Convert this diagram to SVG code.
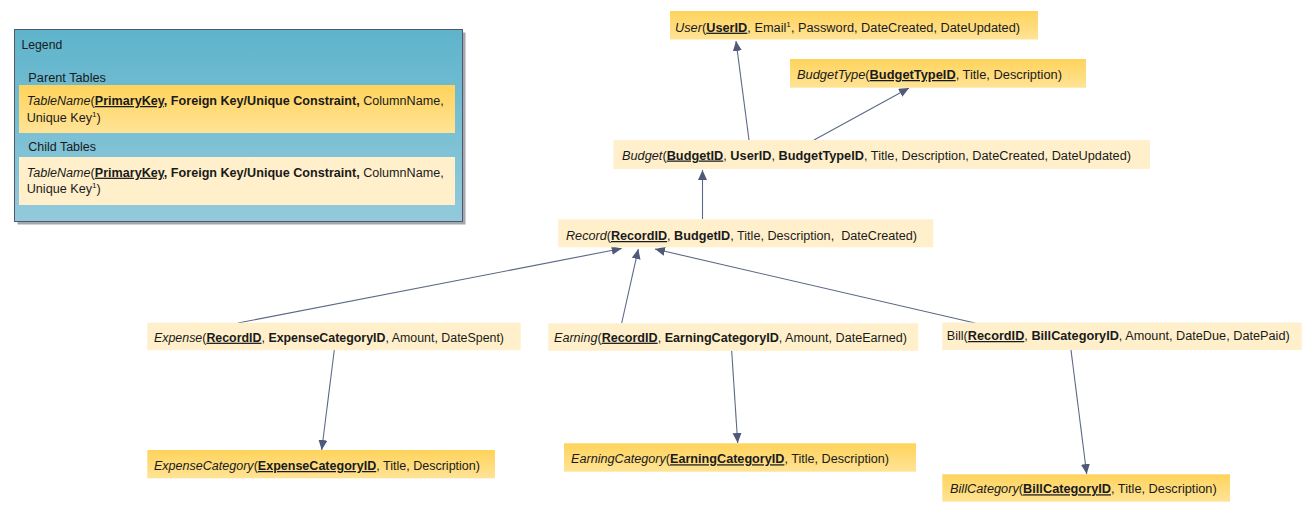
<svg xmlns="http://www.w3.org/2000/svg" width="1314" height="525" viewBox="0 0 1314 525">
<style>
text{font-family:"Liberation Sans",Arial,sans-serif;font-size:12.5px;fill:#1a1a1a}
.i{font-style:italic}
.b{font-weight:bold}
.pk{font-weight:bold;text-decoration:underline}
.sup{font-size:8px}
.parent{fill:url(#gParent)}
.child{fill:#FFF0CB}
.edge{stroke:#5C6885;stroke-width:1.1;fill:none;marker-end:url(#arrow)}
</style>
<defs>
<linearGradient id="gParent" x1="0" y1="0" x2="0" y2="1">
<stop offset="0" stop-color="#FFD35B"/>
<stop offset="1" stop-color="#FFE396"/>
</linearGradient>
<linearGradient id="gLegend" x1="0" y1="0" x2="0" y2="1">
<stop offset="0" stop-color="#5EB4CC"/>
<stop offset="1" stop-color="#93CADB"/>
</linearGradient>
<marker id="arrow" markerUnits="userSpaceOnUse" markerWidth="11" markerHeight="10" refX="10" refY="4.5" orient="auto">
<path d="M0,0 L10,4.5 L0,9 z" fill="#4E5A78"/>
</marker>
</defs>
<rect width="1314" height="525" fill="#ffffff"/>

<g id="legend">
<rect x="17.5" y="32.5" width="448" height="192" fill="#A3A7B0"/>
<rect x="14.5" y="29.5" width="448" height="192" fill="url(#gLegend)" stroke="#4F596B" stroke-width="1"/>
<text x="21.5" y="48.5" textLength="40.7" lengthAdjust="spacingAndGlyphs">Legend</text>
<text x="28.3" y="82.3" textLength="77.7" lengthAdjust="spacingAndGlyphs">Parent Tables</text>
<rect x="19" y="85" width="436" height="48" class="parent"/>
<text x="26.7" y="105" textLength="417" lengthAdjust="spacingAndGlyphs"><tspan class="i">TableName</tspan>(<tspan class="pk">PrimaryKey</tspan><tspan class="b">, Foreign Key/Unique Constraint,</tspan> ColumnName,</text>
<text x="26.7" y="121.7" textLength="74" lengthAdjust="spacingAndGlyphs">Unique Key<tspan class="sup" dy="-5">1</tspan><tspan dy="5">)</tspan></text>
<text x="28.3" y="150.7" textLength="67.7" lengthAdjust="spacingAndGlyphs">Child Tables</text>
<rect x="19" y="157" width="436" height="48" class="child"/>
<text x="26.7" y="176.7" textLength="417" lengthAdjust="spacingAndGlyphs"><tspan class="i">TableName</tspan>(<tspan class="pk">PrimaryKey</tspan><tspan class="b">, Foreign Key/Unique Constraint,</tspan> ColumnName,</text>
<text x="26.7" y="193.3" textLength="74" lengthAdjust="spacingAndGlyphs">Unique Key<tspan class="sup" dy="-5">1</tspan><tspan dy="5">)</tspan></text>
</g>

<g id="connectors">
<line id="e-budget-user" class="edge" x1="749" y1="140" x2="736" y2="41"/>
<line id="e-budget-budgettype" class="edge" x1="814" y1="140" x2="909" y2="88"/>
<line id="e-record-budget" class="edge" x1="702.5" y1="219" x2="702.5" y2="170"/>
<line id="e-expense-record" class="edge" x1="238" y1="323" x2="621.7" y2="248.5"/>
<line id="e-earning-record" class="edge" x1="621.7" y1="323" x2="638.3" y2="249"/>
<line id="e-bill-record" class="edge" x1="975" y1="323" x2="655" y2="249"/>
<line id="e-expense-expensecategory" class="edge" x1="334.3" y1="350" x2="321.7" y2="450"/>
<line id="e-earning-earningcategory" class="edge" x1="731.7" y1="351" x2="737.7" y2="443"/>
<line id="e-bill-billcategory" class="edge" x1="1071" y1="350" x2="1086.7" y2="474"/>
</g>

<g id="node-user">
<rect x="670" y="11" width="368" height="28.5" class="parent"/>
<text x="675" y="31.7" textLength="345" lengthAdjust="spacingAndGlyphs"><tspan class="i">User</tspan>(<tspan class="pk">UserID</tspan>, Email<tspan class="sup" dy="-5">1</tspan><tspan dy="5">, Password, DateCreated, DateUpdated)</tspan></text>
</g>

<g id="node-budgettype">
<rect x="790" y="59" width="296" height="28.7" class="parent"/>
<text x="797" y="79" textLength="265" lengthAdjust="spacingAndGlyphs"><tspan class="i">BudgetType</tspan>(<tspan class="pk">BudgetTypeID</tspan>, Title, Description)</text>
</g>

<g id="node-budget">
<rect x="613.5" y="140" width="536.5" height="29" class="child"/>
<text x="622" y="159.5" textLength="509" lengthAdjust="spacingAndGlyphs"><tspan class="i">Budget</tspan>(<tspan class="pk">BudgetID</tspan>, <tspan class="b">UserID</tspan>, <tspan class="b">BudgetTypeID</tspan>, Title, Description, DateCreated, DateUpdated)</text>
</g>

<g id="node-record">
<rect x="558.3" y="219.3" width="375" height="28" class="child"/>
<text x="566" y="240" textLength="351" lengthAdjust="spacingAndGlyphs"><tspan class="i">Record</tspan>(<tspan class="pk">RecordID</tspan>, <tspan class="b">BudgetID</tspan>, Title, Description,&#160; DateCreated)</text>
</g>

<g id="node-expense">
<rect x="147.3" y="322.7" width="373.4" height="27.5" class="child"/>
<text x="154" y="341.7" textLength="350" lengthAdjust="spacingAndGlyphs"><tspan class="i">Expense</tspan>(<tspan class="pk">RecordID</tspan>, <tspan class="b">ExpenseCategoryID</tspan>, Amount, DateSpent)</text>
</g>

<g id="node-earning">
<rect x="548.3" y="323.3" width="370" height="27.5" class="child"/>
<text x="554" y="341.7" textLength="353" lengthAdjust="spacingAndGlyphs"><tspan class="i">Earning</tspan>(<tspan class="pk">RecordID</tspan>, <tspan class="b">EarningCategoryID</tspan>, Amount, DateEarned)</text>
</g>

<g id="node-bill">
<rect x="942.3" y="322.5" width="359.4" height="27.5" class="child"/>
<text x="946.7" y="340" textLength="343" lengthAdjust="spacingAndGlyphs">Bill(<tspan class="pk">RecordID</tspan>, <tspan class="b">BillCategoryID</tspan>, Amount, DateDue, DatePaid)</text>
</g>

<g id="node-expensecategory">
<rect x="147.3" y="450" width="347.7" height="28.3" class="parent"/>
<text x="154" y="470" textLength="326" lengthAdjust="spacingAndGlyphs"><tspan class="i">ExpenseCategory</tspan>(<tspan class="pk">ExpenseCategoryID</tspan>, Title, Description)</text>
</g>

<g id="node-earningcategory">
<rect x="564" y="443.3" width="352" height="28.4" class="parent"/>
<text x="571" y="463.3" textLength="318" lengthAdjust="spacingAndGlyphs"><tspan class="i">EarningCategory</tspan>(<tspan class="pk">EarningCategoryID</tspan>, Title, Description)</text>
</g>

<g id="node-billcategory">
<rect x="942.3" y="474.3" width="287.7" height="27.4" class="parent"/>
<text x="950" y="493.3" textLength="266.7" lengthAdjust="spacingAndGlyphs"><tspan class="i">BillCategory</tspan>(<tspan class="pk">BillCategoryID</tspan>, Title, Description)</text>
</g>
</svg>
